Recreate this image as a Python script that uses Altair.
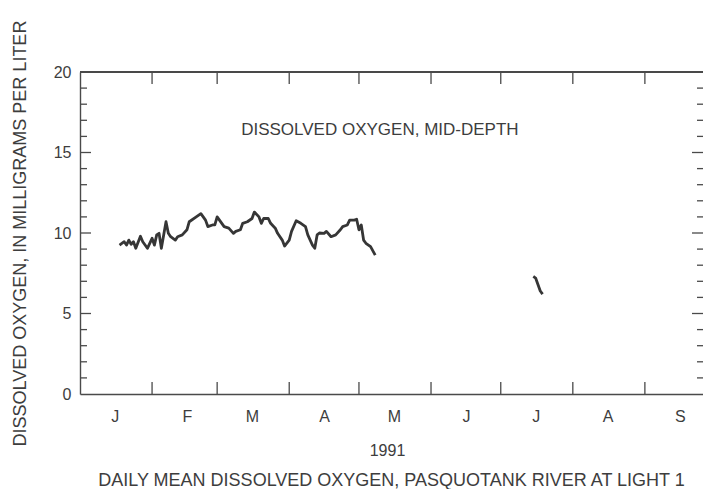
import altair as alt
import pandas as pd

# ---- data ----
dates_main = [
    "1991-01-18", "1991-01-20", "1991-01-21", "1991-01-22", "1991-01-23", "1991-01-24",
    "1991-01-25", "1991-01-27", "1991-01-28", "1991-01-30", "1991-02-01", "1991-02-02",
    "1991-02-03", "1991-02-04", "1991-02-05", "1991-02-06", "1991-02-07", "1991-02-08",
    "1991-02-09", "1991-02-11", "1991-02-12", "1991-02-14", "1991-02-16", "1991-02-17",
    "1991-02-20", "1991-02-22", "1991-02-24", "1991-02-25", "1991-02-27", "1991-02-28",
    "1991-03-01", "1991-03-03", "1991-03-04", "1991-03-06", "1991-03-08", "1991-03-09",
    "1991-03-11", "1991-03-12", "1991-03-14", "1991-03-16", "1991-03-17", "1991-03-19",
    "1991-03-20", "1991-03-21", "1991-03-23", "1991-03-24", "1991-03-26", "1991-03-27",
    "1991-03-29", "1991-03-30", "1991-04-01", "1991-04-02", "1991-04-04", "1991-04-06",
    "1991-04-08", "1991-04-09", "1991-04-11", "1991-04-12", "1991-04-13", "1991-04-14",
    "1991-04-16", "1991-04-17", "1991-04-19", "1991-04-21", "1991-04-23", "1991-04-24",
    "1991-04-26", "1991-04-27", "1991-04-29", "1991-04-30", "1991-05-01", "1991-05-02",
    "1991-05-03", "1991-05-04", "1991-05-06", "1991-05-08",
]
do_main = [
    9.25, 9.46, 9.25, 9.56, 9.30, 9.46,
    9.05, 9.80, 9.46, 9.05, 9.67, 9.25,
    9.88, 9.98, 9.05, 9.88, 10.7, 9.98,
    9.77, 9.56, 9.77, 9.88, 10.2, 10.7,
    11.0, 11.2, 10.8, 10.4, 10.5, 10.5,
    11.0, 10.6, 10.4, 10.3, 9.98, 10.1,
    10.2, 10.6, 10.7, 10.9, 11.3, 11.0,
    10.6, 10.9, 10.9, 10.6, 10.3, 9.98,
    9.56, 9.19, 9.56, 10.1, 10.76, 10.6,
    10.4, 9.88, 9.25, 9.05, 9.88, 10.0,
    9.98, 10.1, 9.77, 9.88, 10.2, 10.4,
    10.5, 10.8, 10.8, 10.85, 10.2, 10.5,
    9.56, 9.36, 9.15, 8.63,
]
dates_jul = ["1991-07-15", "1991-07-16", "1991-07-17", "1991-07-18", "1991-07-19"]
do_jul = [7.3, 7.2, 6.8, 6.4, 6.2]

month_letters = ["J", "F", "M", "A", "M", "J", "J", "A", "S"]
month_starts = ["1991-02-01", "1991-03-01", "1991-04-01", "1991-05-01",
                "1991-06-01", "1991-07-01", "1991-08-01", "1991-09-01"]
y_labels = [0, 5, 10, 15, 20]
y_major_ticks = [5, 10, 15]
y_minor_ticks = [1, 2, 3, 4, 6, 7, 8, 9, 11, 12, 13, 14, 16, 17, 18, 19]

inner_title = "DISSOLVED OXYGEN, MID-DEPTH"
inner_title_date = "1991-05-10"
inner_title_value = 16.4
y_title = "DISSOLVED OXYGEN, IN MILLIGRAMS PER LITER"
x_title = "1991"
caption = "DAILY MEAN DISSOLVED OXYGEN, PASQUOTANK RIVER AT LIGHT 1"

# ---- styling ----
W, H = 623, 322
FONT = "Liberation Sans"
INK = "#3d3d3d"
FRAME = "#4a4a4a"

df = pd.DataFrame({
    "date": dates_main + dates_jul,
    "do": do_main + do_jul,
    "seg": ["jan-may"] * len(dates_main) + ["jul"] * len(dates_jul),
})
ticks_x = pd.DataFrame({"date": month_starts})
ticks_y_major = pd.DataFrame({"do": y_major_ticks})
ticks_y_minor = pd.DataFrame({"do": y_minor_ticks})
note = pd.DataFrame({"date": [inner_title_date], "do": [inner_title_value], "t": [inner_title]})

xscale = alt.Scale(
    type="utc",
    domain=[alt.DateTime(year=1991, month=1, date=1, utc=True),
            alt.DateTime(year=1991, month=9, date=26, utc=True)],
)
yscale = alt.Scale(domain=[0, 20], nice=False)

label_list = ",".join("'%s'" % m for m in month_letters)
xaxis = alt.Axis(
    values=[alt.DateTime(year=1991, month=m, date=16, utc=True) for m in range(1, 10)],
    labelExpr="[%s][utcmonth(datum.value)]" % label_list,
    ticks=False, domain=True, domainColor=FRAME, domainWidth=1.4, grid=False,
    labelFontSize=16, labelPadding=14, labelFont=FONT, labelColor=INK,
    title=x_title, titleFontSize=16, titleFont=FONT, titleColor=INK,
    titleFontWeight="normal", titlePadding=18, titleX=307,
)
yaxis = alt.Axis(
    values=y_labels, ticks=False, domain=True, domainColor=FRAME, domainWidth=1.4, grid=False,
    labelFontSize=16, labelPadding=9, labelFont=FONT, labelColor=INK,
    title=y_title, titleFontSize=18, titleFont=FONT, titleColor=INK,
    titleFontWeight="normal", titlePadding=24,
)

line = alt.Chart(df).mark_line(color="#363636", strokeWidth=2.8, strokeJoin="round").encode(
    x=alt.X("date:T", scale=xscale, axis=xaxis),
    y=alt.Y("do:Q", scale=yscale, axis=yaxis),
    detail="seg:N",
)

tick_style = dict(color=FRAME, strokeWidth=1.3)
top_border = alt.Chart(ticks_x).mark_rule(color=FRAME, strokeWidth=1.4).encode(
    x=alt.value(0), x2=alt.value(W), y=alt.value(0))
bottom_ticks = alt.Chart(ticks_x).mark_rule(**tick_style).encode(
    x="date:T", y=alt.value(H), y2=alt.value(H - 12))
top_ticks = alt.Chart(ticks_x).mark_rule(**tick_style).encode(
    x="date:T", y=alt.value(0), y2=alt.value(12))
left_major = alt.Chart(ticks_y_major).mark_rule(**tick_style).encode(
    y="do:Q", x=alt.value(0), x2=alt.value(11))
left_minor = alt.Chart(ticks_y_minor).mark_rule(**tick_style).encode(
    y="do:Q", x=alt.value(0), x2=alt.value(7))
right_major = alt.Chart(ticks_y_major).mark_rule(**tick_style).encode(
    y="do:Q", x=alt.value(W - 11), x2=alt.value(W))
right_minor = alt.Chart(ticks_y_minor).mark_rule(**tick_style).encode(
    y="do:Q", x=alt.value(W - 6), x2=alt.value(W))

label = alt.Chart(note).mark_text(
    font=FONT, fontSize=17, color=INK, align="center", baseline="middle"
).encode(x="date:T", y="do:Q", text="t:N")

chart = alt.layer(
    line, top_border, bottom_ticks, top_ticks, left_major, left_minor,
    right_major, right_minor, label
).properties(
    width=W, height=H,
    autosize=alt.AutoSizeParams(type="none"),
    padding={"left": 72, "top": 64, "right": 0, "bottom": 95},
    title=alt.Title(caption, orient="bottom", anchor="middle", offset=14,
                    font=FONT, fontSize=18, fontWeight="normal", color=INK),
).configure(background="white").configure_view(stroke=None)

chart.save("out.html", embed_options={"renderer": "svg", "actions": False})
